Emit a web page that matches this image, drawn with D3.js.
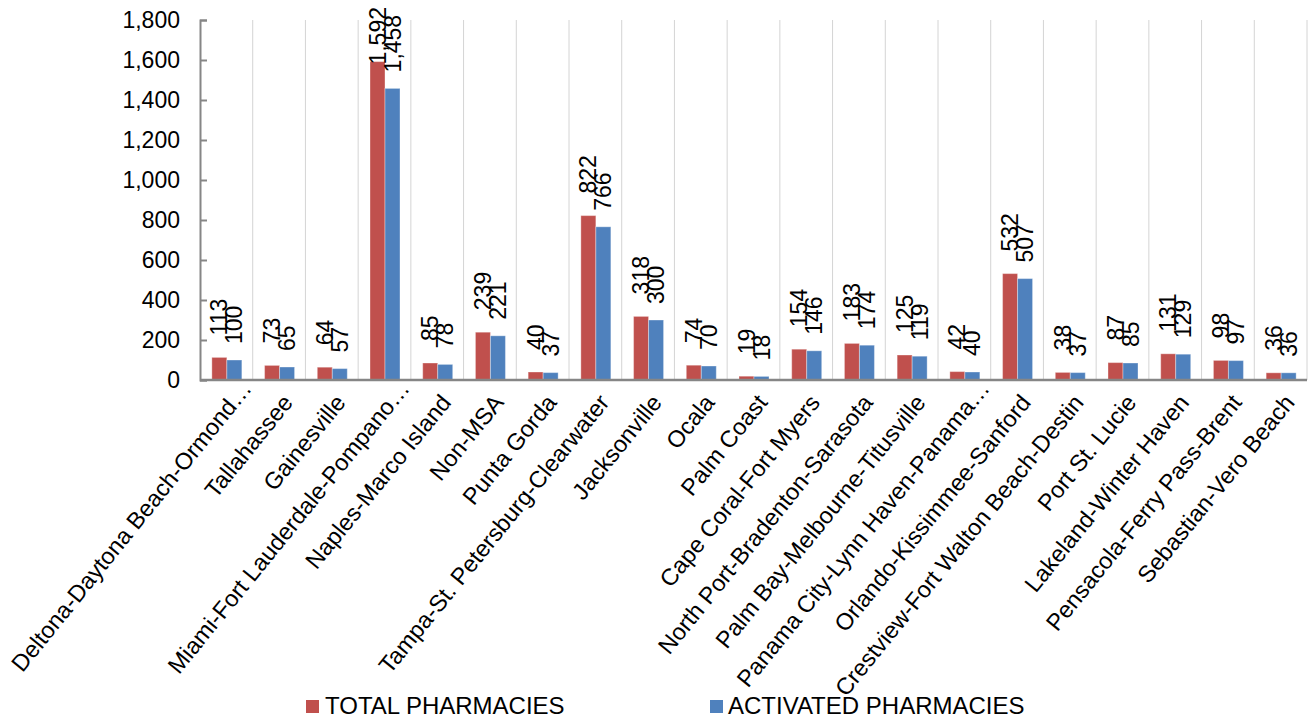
<!DOCTYPE html>
<html><head><meta charset="utf-8">
<script src="https://cdn.jsdelivr.net/npm/d3@7/dist/d3.min.js"></script>
<style>
body{margin:0;background:#fff;}
text{font-family:"Liberation Sans",Arial,sans-serif;fill:#000;}
</style></head>
<body><svg id="c" width="1311" height="717"></svg>
<script>
const categories = ["Deltona-Daytona Beach-Ormond…","Tallahassee","Gainesville","Miami-Fort Lauderdale-Pompano…","Naples-Marco Island","Non-MSA","Punta Gorda","Tampa-St. Petersburg-Clearwater","Jacksonville","Ocala","Palm Coast","Cape Coral-Fort Myers","North Port-Bradenton-Sarasota","Palm Bay-Melbourne-Titusville","Panama City-Lynn Haven-Panama…","Orlando-Kissimmee-Sanford","Crestview-Fort Walton Beach-Destin","Port St. Lucie","Lakeland-Winter Haven","Pensacola-Ferry Pass-Brent","Sebastian-Vero Beach"];
const totalPharmacies = [113,73,64,1592,85,239,40,822,318,74,19,154,183,125,42,532,38,87,131,98,36];
const activatedPharmacies = [100,65,57,1458,78,221,37,766,300,70,18,146,174,119,40,507,37,85,129,97,36];
const seriesNames = ["TOTAL PHARMACIES","ACTIVATED PHARMACIES"];
const seriesColors = ["#C0504D","#4F81BD"];
const yTicks = [0,200,400,600,800,1000,1200,1400,1600,1800];

const svg = d3.select("#c");
const L = 200, R = 1307, T = 20, B = 380;
const x = d3.scaleBand().domain(categories).range([L, R]).padding(0);
const y = d3.scaleLinear().domain([0,1800]).range([B, T]);
const bw = 15;
const offs = [-15, 0];
const gaps = [22, 16];

// vertical gridlines at category boundaries
svg.append("g").selectAll("line").data(categories).join("line")
  .attr("x1", d=> x(d) + x.bandwidth()).attr("x2", d=> x(d) + x.bandwidth())
  .attr("y1", T).attr("y2", B).attr("stroke", "#d4d4d4").attr("stroke-width", 1);

// y axis
const yAxis = d3.axisLeft(y).tickValues(yTicks).tickSize(-7).tickPadding(20).tickFormat(d3.format(","));
const ga = svg.append("g").attr("transform", `translate(${L},0)`).call(yAxis);
ga.select(".domain").attr("stroke", "#868686").attr("stroke-width", 2);
ga.selectAll(".tick line").attr("stroke", "#868686").attr("stroke-width", 2);
ga.selectAll(".tick text").attr("font-size", 23).attr("font-family", '"Liberation Sans",Arial,sans-serif').attr("fill","#000");

const series = [totalPharmacies, activatedPharmacies];
series.forEach((vals, s) => {
  svg.append("g").selectAll("rect").data(vals).join("rect")
    .attr("x", (d,i)=> x(categories[i]) + x.bandwidth()/2 + offs[s] + 0.5)
    .attr("width", bw)
    .attr("y", d=> y(d)).attr("height", d=> B - y(d))
    .attr("fill", seriesColors[s]).attr("stroke", "rgba(255,255,255,0.35)").attr("stroke-width", 1);
});
series.forEach((vals, s) => {
  svg.append("g").selectAll("text").data(vals).join("text")
    .attr("font-size", 23)
    .attr("text-anchor", "start")
    .attr("dy", "0.35em")
    .text(d=> d3.format(",")(d))
    .each(function(d,i){
      const len = this.getComputedTextLength();
      let start = y(d) - gaps[s];
      if (start - len < 7) start = 7 + len;
      const cx = x(categories[i]) + x.bandwidth()/2 + offs[s] + 0.5 + bw/2;
      d3.select(this).attr("transform", `translate(${cx},${start}) rotate(-90)`);
    });
});

// x axis line
svg.append("line").attr("x1", L).attr("x2", R).attr("y1", B).attr("y2", B)
  .attr("stroke", "#868686").attr("stroke-width", 2.5);

// x labels
svg.append("g").selectAll("text").data(categories).join("text")
  .attr("font-size", 23.5).attr("text-anchor", "end")
  .attr("transform", d=> `translate(${x(d) + x.bandwidth()/2 + 15},403) rotate(-51) translate(${d.endsWith("…") ? 18 : 0},0)`)
  .text(d=>d);

// legend
const leg = [{x:306, tx:325},{x:710, tx:728}];
seriesNames.forEach((n,i)=>{
  svg.append("rect").attr("x", leg[i].x).attr("y", 700).attr("width", 13).attr("height", 13).attr("fill", seriesColors[i]);
  svg.append("text").attr("x", leg[i].tx).attr("y", 713.5).attr("font-size", 24).text(n);
});
</script></body></html>
